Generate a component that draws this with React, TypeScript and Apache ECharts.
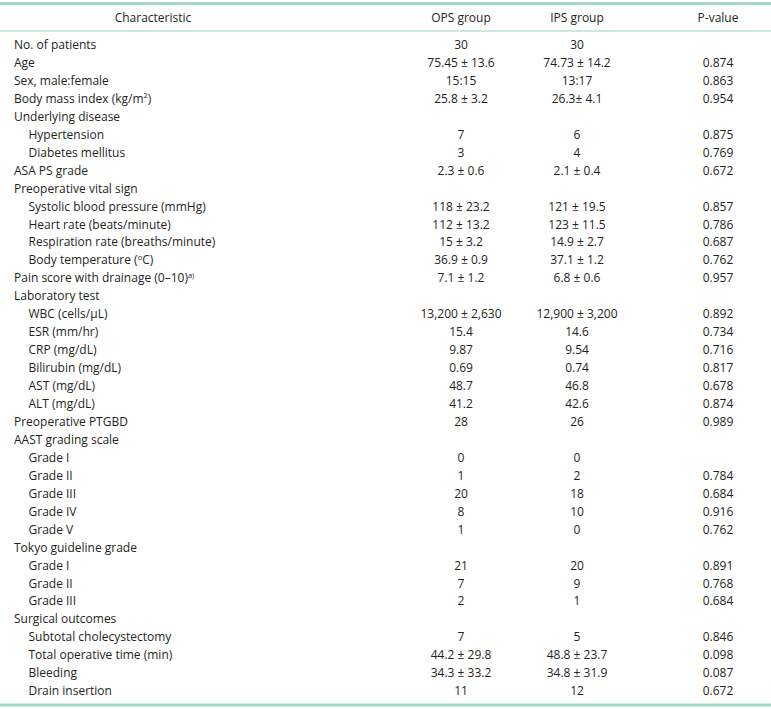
import React, { useEffect, useRef } from "react";
import * as echarts from "echarts";

const headers = ["Characteristic", "OPS group", "IPS group", "P-value"];

const characteristics = [
  "No. of patients", "Age", "Sex, male:female", "Body mass index (kg/m{sup|2})", "Underlying disease",
  "Hypertension", "Diabetes mellitus", "ASA PS grade", "Preoperative vital sign",
  "Systolic blood pressure (mmHg)", "Heart rate (beats/minute)", "Respiration rate (breaths/minute)",
  "Body temperature ({sup|o}C)", "Pain score with drainage (0–10){sup|a)}", "Laboratory test",
  "WBC (cells/µL)", "ESR (mm/hr)", "CRP (mg/dL)", "Bilirubin (mg/dL)", "AST (mg/dL)", "ALT (mg/dL)",
  "Preoperative PTGBD", "AAST grading scale", "Grade I", "Grade II", "Grade III", "Grade IV", "Grade V",
  "Tokyo guideline grade", "Grade I", "Grade II", "Grade III", "Surgical outcomes",
  "Subtotal cholecystectomy", "Total operative time (min)", "Bleeding", "Drain insertion",
];

const indentLevels = [
  0, 0, 0, 0, 0,
  1, 1, 0, 0,
  1, 1, 1,
  1, 0, 0,
  1, 1, 1, 1, 1, 1,
  0, 0, 1, 1, 1, 1, 1,
  0, 1, 1, 1, 0,
  1, 1, 1, 1,
];

const opsGroup = [
  "30", "75.45 ± 13.6", "15:15", "25.8 ± 3.2", "",
  "7", "3", "2.3 ± 0.6", "",
  "118 ± 23.2", "112 ± 13.2", "15 ± 3.2",
  "36.9 ± 0.9", "7.1 ± 1.2", "",
  "13,200 ± 2,630", "15.4", "9.87", "0.69", "48.7", "41.2",
  "28", "", "0", "1", "20", "8", "1",
  "", "21", "7", "2", "",
  "7", "44.2 ± 29.8", "34.3 ± 33.2", "11",
];

const ipsGroup = [
  "30", "74.73 ± 14.2", "13:17", "26.3± 4.1", "",
  "6", "4", "2.1 ± 0.4", "",
  "121 ± 19.5", "123 ± 11.5", "14.9 ± 2.7",
  "37.1 ± 1.2", "6.8 ± 0.6", "",
  "12,900 ± 3,200", "14.6", "9.54", "0.74", "46.8", "42.6",
  "26", "", "0", "2", "18", "10", "0",
  "", "20", "9", "1", "",
  "5", "48.8 ± 23.7", "34.8 ± 31.9", "12",
];

const pValues = [
  "", "0.874", "0.863", "0.954", "",
  "0.875", "0.769", "0.672", "",
  "0.857", "0.786", "0.687",
  "0.762", "0.957", "",
  "0.892", "0.734", "0.716", "0.817", "0.678", "0.874",
  "0.989", "", "", "0.784", "0.684", "0.916", "0.762",
  "", "0.891", "0.768", "0.684", "",
  "0.846", "0.098", "0.087", "0.672",
];

const FONT_FAMILY = "'Open Sans', 'Noto Sans', sans-serif";
const FONT_SIZE = 12;
const TEXT_COLOR = "#231f20";
const RULE_COLOR = "#a3d9c4";

export default function App() {
  const ref = useRef<HTMLDivElement>(null);

  useEffect(() => {
    document.body.style.margin = "0";
    if (!ref.current) return;
    const chart = echarts.init(ref.current, null, { renderer: "svg" });

    const W = 771;
    const headerY = 17;
    const firstRowY = 44.5;
    const rowStep = 17.95;
    const colX = [153, 461, 577, 718];
    const indentX = [14, 28.5];

    const rich = {
      sup: { fontSize: 7.5, verticalAlign: "top", padding: [0, 0, 6, 0], fill: TEXT_COLOR, fontFamily: FONT_FAMILY },
    };

    const baseStyle = (extra: any) => ({
      fill: TEXT_COLOR,
      fontFamily: FONT_FAMILY,
      fontSize: FONT_SIZE,
      verticalAlign: "middle",
      ...extra,
    });

    const elements: any[] = [];

    elements.push({
      type: "line",
      shape: { x1: 0, y1: 3.5, x2: W, y2: 3.5 },
      style: { stroke: RULE_COLOR, lineWidth: 3 },
    });
    elements.push({
      type: "line",
      shape: { x1: 0, y1: 31, x2: W, y2: 31 },
      style: { stroke: "#b9e3d3", lineWidth: 1.5 },
    });
    elements.push({
      type: "line",
      shape: { x1: 0, y1: 705, x2: W, y2: 705 },
      style: { stroke: RULE_COLOR, lineWidth: 3 },
    });

    headers.forEach((h, i) => {
      elements.push({
        type: "text",
        x: colX[i],
        y: headerY,
        style: baseStyle({ text: h, align: "center" }),
      });
    });

    characteristics.forEach((c, r) => {
      const y = firstRowY + r * rowStep;
      elements.push({
        type: "text",
        x: indentX[indentLevels[r]],
        y,
        style: baseStyle({ text: c, align: "left", rich }),
      });
      [opsGroup[r], ipsGroup[r], pValues[r]].forEach((v, j) => {
        if (!v) return;
        elements.push({
          type: "text",
          x: colX[j + 1],
          y,
          style: baseStyle({ text: v, align: "center" }),
        });
      });
    });

    chart.setOption({
      animation: false,
      backgroundColor: "#ffffff",
      graphic: { elements },
    });

    return () => chart.dispose();
  }, []);

  return <div ref={ref} style={{ width: 771, height: 709 }} />;
}
